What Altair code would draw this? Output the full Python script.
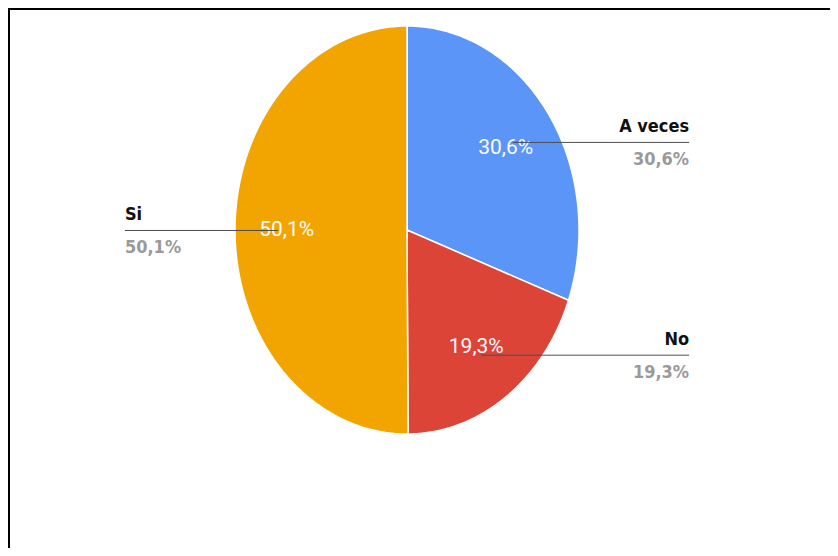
import altair as alt
import pandas as pd

# ---- data ----
categories = ["A veces", "No", "Si"]
values = [30.6, 19.3, 50.1]
pct_labels = ["30,6%", "19,3%", "50,1%"]
colors = ["#5B95F7", "#DC4437", "#F2A500"]

# ---- layout (pixels inside the svg) ----
W, H = 822, 540
CX, CY = 399, 222      # pie centre
RX, RY = 172, 204      # horizontal / vertical radius (stretched pie)
LABEL_R = 0.70         # inner label radius (fraction)
LEADER_R = 0.75        # leader line start (fraction)
ANCHOR = 1.64          # outer label anchor (fraction of RX)
OUTER_FONT = "DejaVu Sans Condensed, Liberation Sans Narrow, Liberation Sans, sans-serif"

df = pd.DataFrame({"cat": categories, "val": values, "pct": pct_labels,
                   "order": list(range(len(categories)))})

xs = alt.Scale(domain=[-CX / RX, (W - CX) / RX], nice=False, zero=False)
ys = alt.Scale(domain=[-(H - CY) / RY, CY / RY], nice=False, zero=False)
cs = alt.Scale(domain=categories, range=colors)

base = alt.Chart(df).transform_window(
    cum="sum(val)", sort=[alt.SortField("order")], frame=[None, 0]
).transform_joinaggregate(total="sum(val)").transform_calculate(
    a0="2*PI*(datum.cum - datum.val)/datum.total",
    a1="2*PI*datum.cum/datum.total",
).transform_calculate(
    mid="(datum.a0 + datum.a1)/2"
).transform_calculate(
    side="sin(datum.mid) > 0 ? 1 : -1",
    lx0=f"{LEADER_R}*sin(datum.mid)",
    ly=f"{LEADER_R}*cos(datum.mid)",
    ix=f"{LABEL_R}*sin(datum.mid)",
    iy=f"{LABEL_R}*cos(datum.mid)",
).transform_calculate(
    lx1=f"datum.side*{ANCHOR}"
)

N = 120
slices = base.transform_calculate(
    step=f"sequence(0, {N + 3})"
).transform_flatten(["step"]).transform_calculate(
    centre=f"datum.step == 0 || datum.step == {N + 2}",
    ang=f"datum.a0 + (datum.a1 - datum.a0)*min(max(datum.step - 1, 0)/{N}, 1)",
).transform_calculate(
    px="datum.centre ? 0 : sin(datum.ang)",
    py="datum.centre ? 0 : cos(datum.ang)",
).mark_line(stroke="white", strokeWidth=1.5, strokeJoin="round").encode(
    x=alt.X("px:Q", scale=xs, axis=None),
    y=alt.Y("py:Q", scale=ys, axis=None),
    order=alt.Order("step:Q"),
    detail="cat:N",
    fill=alt.Fill("cat:N", scale=cs, legend=None),
)

leaders = base.mark_rule(color="#4d4d4d", strokeWidth=1).encode(
    x=alt.X("lx0:Q", scale=xs, axis=None),
    x2="lx1:Q",
    y=alt.Y("ly:Q", scale=ys, axis=None),
)

inner = base.mark_text(color="#fbfbff", fontSize=21, font="Roboto",
                       baseline="middle", align="center").encode(
    x=alt.X("ix:Q", scale=xs, axis=None),
    y=alt.Y("iy:Q", scale=ys, axis=None),
    text="pct:N",
)

def outer(side_filter, align):
    b = base.transform_filter(side_filter)
    name = b.mark_text(font=OUTER_FONT, fontSize=18, fontWeight="bold",
                       color="#111111", align=align, baseline="alphabetic", dy=-10).encode(
        x=alt.X("lx1:Q", scale=xs, axis=None),
        y=alt.Y("ly:Q", scale=ys, axis=None),
        text="cat:N",
    )
    pct = b.mark_text(font=OUTER_FONT, fontSize=18, fontWeight="bold",
                      color="#9a9a9a", align=align, baseline="alphabetic", dy=23).encode(
        x=alt.X("lx1:Q", scale=xs, axis=None),
        y=alt.Y("ly:Q", scale=ys, axis=None),
        text="pct:N",
    )
    return name + pct

right_labels = outer("datum.side > 0", "right")
left_labels = outer("datum.side < 0", "left")

frame_top = alt.Chart(df).mark_rule(color="black", strokeWidth=2).encode(
    x=alt.value(0), x2=alt.value(W), y=alt.value(1))
frame_left = alt.Chart(df).mark_rule(color="black", strokeWidth=2).encode(
    x=alt.value(1), y=alt.value(0), y2=alt.value(H))

chart = alt.layer(
    slices, inner, leaders, right_labels, left_labels, frame_top, frame_left
).properties(
    width=W, height=H,
    autosize=alt.AutoSizeParams(type="none"),
    padding=0,
).configure_view(stroke=None).configure(background="white")

chart.save("out.html", embed_options={"renderer": "svg", "actions": False})
